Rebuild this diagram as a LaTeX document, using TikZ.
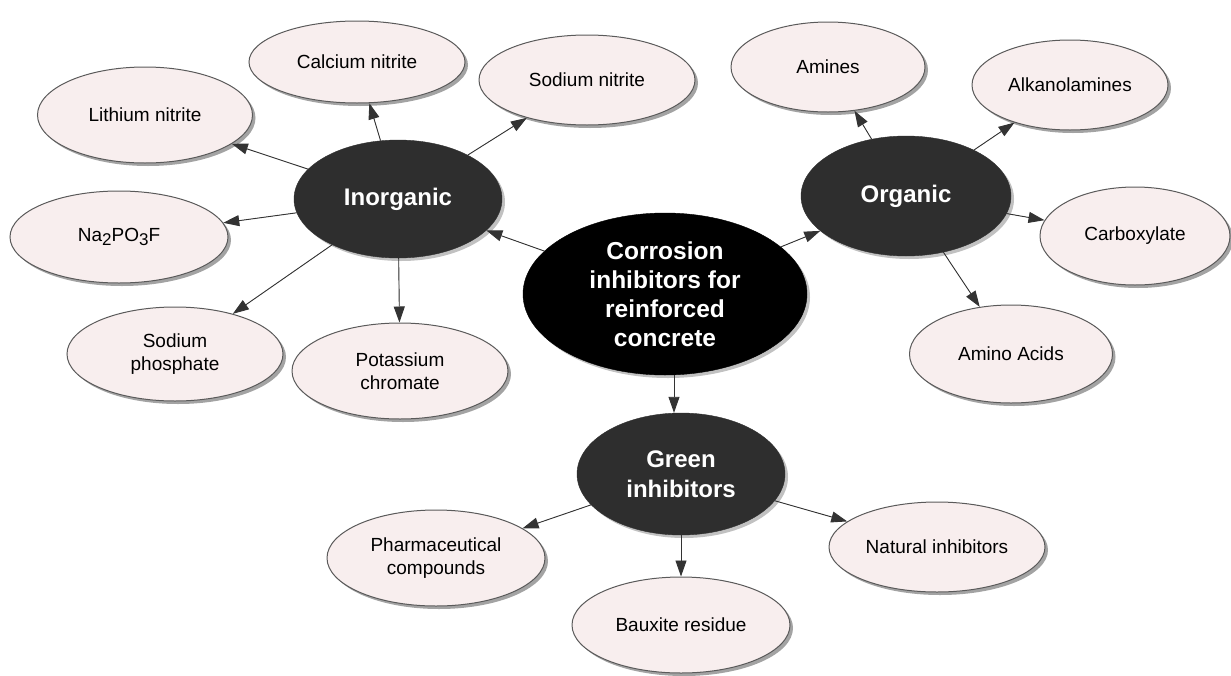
\documentclass[tikz,border=0pt]{standalone}
\usepackage{fontspec}
\setmainfont{Liberation Sans}
\usetikzlibrary{shapes.geometric,arrows.meta,shadows}
\definecolor{leaf}{HTML}{F8EEEE}
\definecolor{leafedge}{HTML}{5A5A5A}
\definecolor{hub}{HTML}{2E2E2E}
\definecolor{arr}{HTML}{333333}
\newcommand{\lowsub}[1]{\raisebox{-0.35ex}{\fontsize{17}{19}\selectfont #1}}
\begin{document}
\begin{tikzpicture}[x=1pt,y=-1pt,
  leafnode/.style n args={2}{ellipse, draw=leafedge, line width=1pt, fill=leaf,
    minimum width=#1, minimum height=#2, inner sep=0pt, align=center,
    font=\fontsize{19}{22.5}\selectfont,
    drop shadow={shadow xshift=3pt, shadow yshift=-3pt, fill=black!45, opacity=0.8}},
  hubnode/.style n args={2}{ellipse, fill=hub, text=white, draw=hub,
    minimum width=#1, minimum height=#2, inner sep=0pt, align=center,
    drop shadow={shadow xshift=3pt, shadow yshift=-3pt, fill=black!35, opacity=0.7}},
  link/.style={draw=arr, line width=0.9pt, -{Triangle[length=16pt,width=11pt]}, fill=arr}
]
\useasboundingbox (0,0) rectangle (1231,675);

% hubs
\node[hubnode={284}{162}, fill=black, draw=black, font=\bfseries\fontsize{24.5}{29}\selectfont] (core) at (665,294)
  {Corrosion\\inhibitors for\\reinforced\\concrete};
\node[hubnode={208}{118}, font=\bfseries\fontsize{24}{28}\selectfont] (inorg) at (398,199) {Inorganic};
\node[hubnode={210}{120}, font=\bfseries\fontsize{24}{28}\selectfont] (org) at (906,196) {Organic};
\node[hubnode={208}{122}, font=\bfseries\fontsize{24}{30}\selectfont] (green) at (681,474) {Green\\inhibitors};

% inorganic leaves
\node[leafnode={216}{82}] (calc) at (357,62) {Calcium nitrite};
\node[leafnode={216}{90}] (sodn) at (587,80) {Sodium nitrite};
\node[leafnode={215}{96}] (lith) at (145,115) {Lithium nitrite};
\node[leafnode={218}{92}] (na) at (119,237) {Na\lowsub{2}PO\lowsub{3}F};
\node[leafnode={216}{94}] (sodp) at (175,354) {Sodium\\phosphate};
\node[leafnode={216}{96}] (pota) at (400,371) {Potassium\\chromate};

% organic leaves
\node[leafnode={194}{90}] (amin) at (828,67) {Amines};
\node[leafnode={196}{90}] (alka) at (1070,85) {Alkanolamines};
\node[leafnode={190}{98}] (carb) at (1135,236) {Carboxylate};
\node[leafnode={203}{98}] (amac) at (1011,354) {Amino Acids};

% green leaves
\node[leafnode={218}{96}] (phar) at (436,558) {Pharmaceutical\\compounds};
\node[leafnode={218}{96}] (baux) at (681,625) {Bauxite residue};
\node[leafnode={216}{90}] (natu) at (937,547) {Natural inhibitors};

% connectors
\draw[link] (core) -- (inorg);
\draw[link] (core) -- (org);
\coordinate (cs) at (674,0);
\draw[link] (cs |- core.south) -- (cs |- green.north);

\draw[link] (inorg) -- (lith);
\draw[link] (inorg) -- (calc);
\draw[link] (inorg) -- (sodn);
\draw[link] (inorg) -- (na);
\draw[link] (inorg) -- (sodp);
\draw[link] (inorg) -- (pota);

\draw[link] (org) -- (amin);
\draw[link] (org) -- (alka);
\draw[link] (org) -- (carb);
\draw[link] (org) -- (amac);

\draw[link] (green) -- (phar);
\draw[link] (green) -- (baux);
\draw[link] (green) -- (natu);
\end{tikzpicture}
\end{document}
